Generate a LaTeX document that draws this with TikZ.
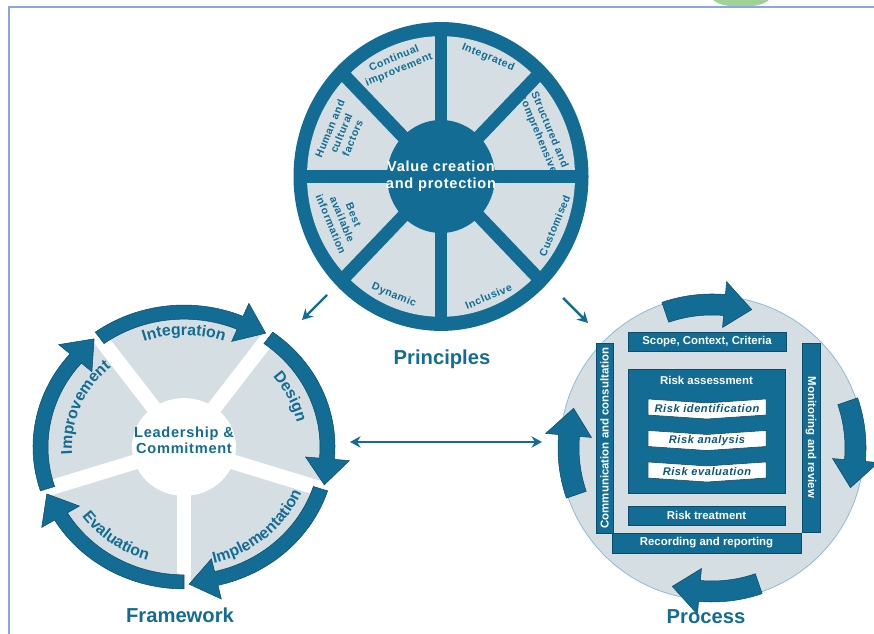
\documentclass[tikz,border=0pt]{standalone}
\usepackage{fontspec}
\setmainfont{Liberation Sans}
\newfontfamily\widefont[LetterSpace=5.0]{Liberation Sans}
\usetikzlibrary{arrows.meta, decorations.text, positioning}

\definecolor{isoblue}{RGB}{18,108,148}
\definecolor{isogrey}{RGB}{213,222,226}
\definecolor{rimblue}{RGB}{150,190,212}
\definecolor{framecol}{RGB}{138,166,222}
\definecolor{blobgreen}{RGB}{160,210,150}

\newcommand\arclbl{\widefont\bfseries\fontsize{9}{9}\selectfont}

\tikzset{
  wheeltitle/.style={font=\bfseries\fontsize{11.5}{12}\selectfont, text=isoblue, inner sep=0pt},
  hubtext/.style={font=\widefont\bfseries\fontsize{8.3}{9.5}\selectfont, align=center, inner sep=0pt},
  seglabel/.style={font=\widefont\bfseries\fontsize{6}{7}\selectfont, text=isoblue, align=center, inner sep=0pt},
  stepbar/.style={fill=isoblue, draw=isoblue!70!black, line width=0.3pt, text=white,
    font=\bfseries\fontsize{6.5}{7}\selectfont, inner sep=0pt},
  chevtext/.style={font=\widefont\bfseries\itshape\fontsize{6.3}{7}\selectfont, text=isoblue!80!black, inner sep=0pt},
  wheellink/.style={isoblue, line width=1.4pt, -{Stealth[length=6pt,width=6.5pt]}},
}

\begin{document}
\begin{tikzpicture}[x=0.02cm, y=0.02cm]
    \useasboundingbox (0,0) rectangle (874,634);
    \clip (0,0) rectangle (874,634);

    % Page frame
    \fill[blobgreen] (741,637) ellipse [x radius=29, y radius=10];
    \draw[framecol, line width=1.4pt] (9,0) -- (9,627) -- (874,627);

    % Principles wheel
    \begin{scope}[shift={(441,457.5)}, yscale=1.047]
        \fill[isoblue] (0,0) circle (147.5);
        \fill[isogrey] (0,0) circle (134);
        \foreach \a in {0,45,...,315}
            \draw[isoblue, line width=7.3pt] (0,0) -- (\a:140);
        \fill[isoblue] (0,0) circle (54);
        \node[hubtext, text=white] (value) at (0,0) {Value creation\\and protection};
        \node[seglabel, rotate=22.5] (contimp) at (112.5:116) {Continual\\improvement};
        \node[seglabel, rotate=-22.5] (integrated) at (67.5:123) {Integrated};
        \node[seglabel, rotate=-67.5] (structured) at (22.5:111) {Structured and\\comprehensive};
        \node[seglabel, rotate=67.5] (customised) at (-22.5:123) {Customised};
        \node[seglabel, rotate=22.5] (inclusive) at (-67.5:124) {Inclusive};
        \node[seglabel, rotate=-22.5] (dynamic) at (-112.5:123) {Dynamic};
        \node[seglabel, rotate=-67.5] (bestinfo) at (202.5:107) {Best\\available\\information};
        \node[seglabel, rotate=67.5] (human) at (157.5:108) {Human and\\cultural\\factors};
    \end{scope}
    \node[wheeltitle] (principles) at (442,275) {Principles};

    % Framework wheel
    \begin{scope}[shift={(184,187)}, yscale=0.94]
        \fill[isogrey] (0,0) circle (143);
        \foreach \a in {126,54,-18,-90,198}
            \draw[white, line width=8.5pt] (0,0) -- (\a:150);
        \fill[white] (0,0) circle (52);
        \foreach \a/\b in {126/54, 54/-18, -18/-90, -90/-162, 198/126}
            \fill[isoblue, draw=isoblue!70!black, line width=0.3pt]
                (\a:151) arc[start angle=\a, end angle=\b+13, radius=151]
                -- (\b+13:166) -- (\b+2:146) -- (\b+13:122) -- (\b+13:136)
                arc[start angle=\b+13, end angle=\a, radius=136] -- cycle;
        \path[decorate, decoration={text along path, text align=center, text color=isoblue,
            text={|\arclbl|Integration}}] (130:119) arc[start angle=130, end angle=50, radius=119];
        \path[decorate, decoration={text along path, text align=center, text color=isoblue,
            text={|\arclbl|Design}}] (66:116) arc[start angle=66, end angle=-14, radius=116];
        \path[decorate, decoration={text along path, text align=center, text color=isoblue,
            text={|\arclbl|Implementation}}] (-89:127) arc[start angle=-89, end angle=-9, radius=127];
        \path[decorate, decoration={text along path, text align=center, text color=isoblue,
            text={|\arclbl|Evaluation}}] (194:126) arc[start angle=194, end angle=274, radius=126];
        \path[decorate, decoration={text along path, text align=center, text color=isoblue,
            text={|\arclbl|Improvement}}] (197.5:112) arc[start angle=197.5, end angle=117.5, radius=112];
        \node[hubtext, text=isoblue] (leadership) at (0,7) {Leadership \&\\Commitment};
    \end{scope}
    \node[wheeltitle] (framework) at (180,19) {Framework};

    % Process wheel
    \begin{scope}[shift={(712,186)}]
        \fill[isogrey, draw=rimblue, line width=0.5pt] (0,0) circle (152);
        \foreach \c in {90,0,-90,180}
            \fill[isoblue, draw=isoblue!70!black, line width=0.3pt]
                (\c+19:154) arc[start angle=\c+19, end angle=\c-5, radius=154]
                -- (\c-5:167) -- (\c-16:144) -- (\c-5:121) -- (\c-5:133)
                arc[start angle=\c-5, end angle=\c+19, radius=133] -- cycle;
    \end{scope}
    \node[stepbar, minimum width=3.16cm, minimum height=0.38cm] (sccbox) at (707,292.5) {Scope, Context, Criteria};
    \node[stepbar, minimum width=3.14cm, minimum height=2.48cm] (assess) at (706.5,203) {};
    \node[stepbar, draw=none] (assesstitle) at (706.5,254) {Risk assessment};
    \foreach \yc/\nm/\txt in {225/riskid/Risk identification, 193.5/riskan/Risk analysis, 162/riskev/Risk evaluation} {
        \fill[white, draw=isoblue!60!black, line width=0.3pt]
            (648,\yc+10) -- (707,\yc+6) -- (766,\yc+10) -- (766,\yc-6) -- (707,\yc-10) -- (648,\yc-6) -- cycle;
        \node[chevtext] (\nm) at (707,\yc) {\txt};
    }
    \node[stepbar, minimum width=3.14cm, minimum height=0.38cm] (treat) at (706.5,118.5) {Risk treatment};
    \node[stepbar, minimum width=3.78cm, minimum height=0.4cm] (record) at (706.5,91) {Recording and reporting};
    \node[stepbar, minimum width=3.8cm, minimum height=0.34cm, rotate=90] (comm) at (604.5,196) {Communication and consultation};
    \node[stepbar, minimum width=3.78cm, minimum height=0.36cm, rotate=-90] (monitor) at (811,196.5) {Monitoring and review};
    \node[wheeltitle] (process) at (706,17) {Process};

    % Links between the wheels
    \coordinate (pf-start) at (327,339);
    \coordinate (pf-end) at (302,314);
    \coordinate (pp-start) at (563,336);
    \coordinate (pp-end) at (588,311);
    \coordinate (fw-east) at (350,192);
    \coordinate (pr-west) at (542,192);
    \draw[wheellink] (pf-start) -- (pf-end);
    \draw[wheellink] (pp-start) -- (pp-end);
    \draw[wheellink, {Stealth[length=6pt,width=6.5pt]}-{Stealth[length=6pt,width=6.5pt]}] (fw-east) -- (pr-west);
\end{tikzpicture}
\end{document}
